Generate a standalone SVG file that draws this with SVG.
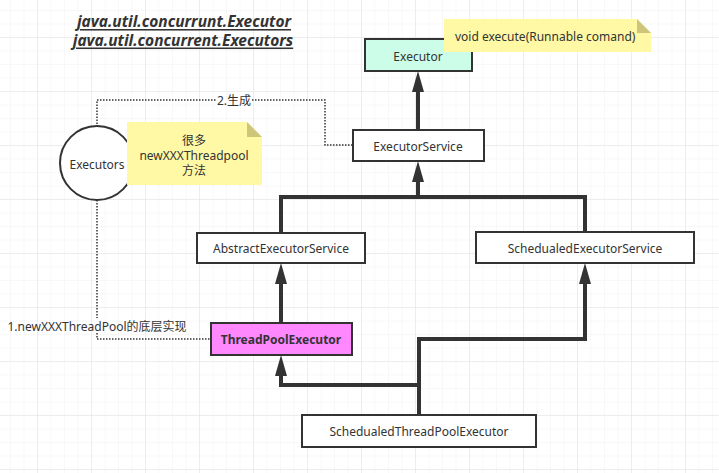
<svg xmlns="http://www.w3.org/2000/svg" width="719" height="473" viewBox="0 0 719 473">
<style>
text{font-family:"Noto Sans","Noto Sans CJK SC",sans-serif;fill:#333;font-size:12px}
.c{text-anchor:middle;dominant-baseline:central}
.box{stroke:#333;stroke-width:2}
.inh{fill:none;stroke:#333;stroke-width:4;stroke-linejoin:miter}
.dot{fill:none;stroke:#333;stroke-width:1.5;stroke-dasharray:1.5 1.5}
.note{fill:#fff9a6}
.fold{fill:#cdc57a}
.title{font-size:15.5px;font-weight:bold;font-style:italic;text-decoration:underline}
</style>
<defs>
<pattern id="minor" width="13.5" height="13.5" patternUnits="userSpaceOnUse" x="10" y="10">
<path d="M0,0 H13.5 M0,0 V13.5" stroke="#f1f1f1" stroke-width="1" fill="none"/>
</pattern>
<pattern id="major" width="54" height="54" patternUnits="userSpaceOnUse" x="37" y="37">
<path d="M0,0 H54 M0,0 V54" stroke="#e2e2e2" stroke-width="1" fill="none"/>
</pattern>
<marker id="tri" markerUnits="userSpaceOnUse" markerWidth="21" markerHeight="12" refX="0" refY="6" orient="auto" viewBox="0 0 21 12">
<path d="M0,0 L21,6 L0,12 Z" fill="#333"/>
</marker>
</defs>
<rect width="719" height="473" fill="#fff"/>
<rect width="719" height="473" fill="url(#minor)"/>
<rect width="719" height="473" fill="url(#major)"/>

<g id="title">
<text class="title" x="184" y="21" text-anchor="middle" dominant-baseline="central">java.util.concurrunt.Executor</text>
<text class="title" x="183" y="39.5" text-anchor="middle" dominant-baseline="central">java.util.concurrent.Executors</text>
</g>

<g id="connectors">
<path class="inh" d="M418,130 V92" marker-end="url(#tri)"/>
<path class="inh" d="M281,233 V197 H418 V182" marker-end="url(#tri)"/>
<path class="inh" d="M585,232 V197 H418"/>
<path class="inh" d="M281,323 V284" marker-end="url(#tri)"/>
<path class="inh" d="M419,415 V385 H281 V376" marker-end="url(#tri)"/>
<path class="inh" d="M419,390 V339 H585 V284" marker-end="url(#tri)"/>
<path class="dot" d="M97,127 V100 H216"/>
<path class="dot" d="M252,100 H325 V145 H353"/>
<text class="c" x="234" y="100">2.生成</text>
<path class="dot" d="M97,200 V318"/>
<path class="dot" d="M97,333 V339 H211"/>
<text class="c" x="97" y="326">1.newXXXThreadPool的底层实现</text>
</g>

<g id="executor">
<rect class="box" x="365" y="39" width="107" height="32" fill="#ccfde9"/>
<text class="c" x="418" y="56">Executor</text>
</g>
<g id="note-execute">
<polygon class="note" points="444,19 637,19 651,33 651,52 444,52"/>
<polygon class="fold" points="637,19 651,33 637,33"/>
<text x="455" y="36" dominant-baseline="central">void execute(Runnable comand)</text>
</g>
<g id="executorService">
<rect class="box" x="353" y="130" width="131" height="31" fill="#fff"/>
<text class="c" x="418" y="146">ExecutorService</text>
</g>
<g id="executors">
<circle class="box" cx="97" cy="163" r="37" fill="#fff"/>
<text class="c" x="97" y="164">Executors</text>
</g>
<g id="note-executors">
<polygon class="note" points="127,122 247,122 262,137 262,185 127,185"/>
<polygon class="fold" points="247,122 262,137 247,137"/>
<text class="c" x="194" y="140">很多</text>
<text class="c" x="194" y="155">newXXXThreadpool</text>
<text class="c" x="194" y="170">方法</text>
</g>
<g id="abstractExecutorService">
<rect class="box" x="197" y="233" width="168" height="30" fill="#fff"/>
<text class="c" x="281" y="248">AbstractExecutorService</text>
</g>
<g id="schedualedExecutorService">
<rect class="box" x="476" y="232" width="218" height="31" fill="#fff"/>
<text class="c" x="585" y="248">SchedualedExecutorService</text>
</g>
<g id="threadPoolExecutor">
<rect class="box" x="211" y="323" width="141" height="32" fill="#ff88ff"/>
<text class="c" x="281" y="339" font-weight="bold">ThreadPoolExecutor</text>
</g>
<g id="schedualedThreadPoolExecutor">
<rect class="box" x="302" y="415" width="234" height="32" fill="#fff"/>
<text class="c" x="419" y="431">SchedualedThreadPoolExecutor</text>
</g>
</svg>
